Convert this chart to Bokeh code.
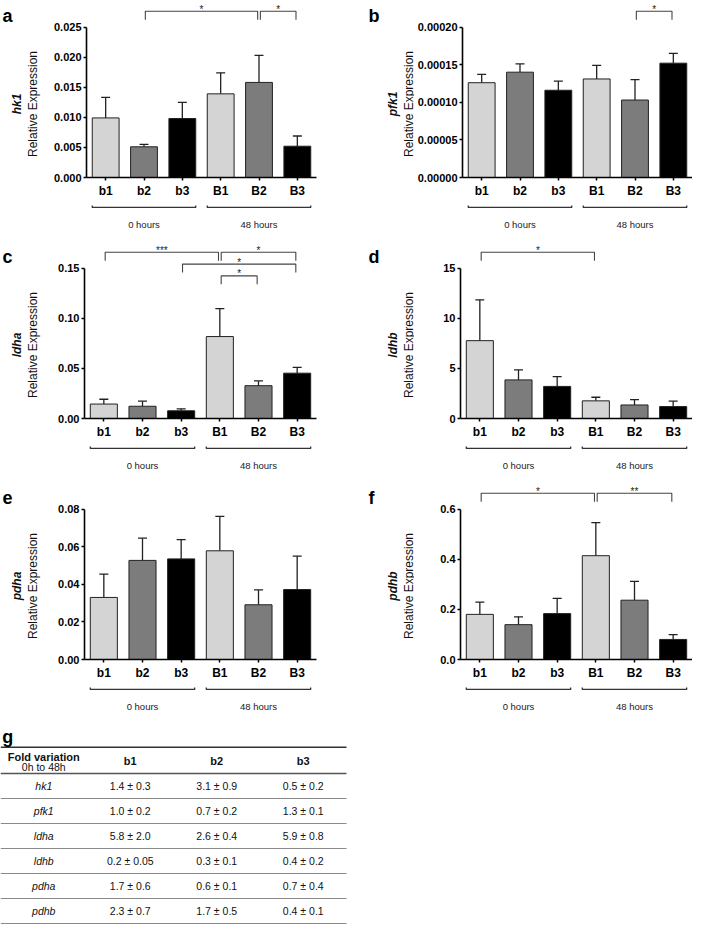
import math
from bokeh.plotting import figure
from bokeh.layouts import column, row
from bokeh.models import Range1d, FactorRange, FixedTicker, NumeralTickFormatter
from bokeh.embed import file_html
from bokeh.resources import INLINE
from bokeh.core.properties import value

FONT = "Liberation Sans"

# ---------------- data ----------------
categories = ["b1", "b2", "b3", "B1", "B2", "B3"]
group_names = ["0 hours", "48 hours"]
group_members = [["b1", "b2", "b3"], ["B1", "B2", "B3"]]
bar_colors = ["#d4d4d4", "#7c7c7c", "#000000", "#d4d4d4", "#7c7c7c", "#000000"]

hk1_mean = [0.0099, 0.0051, 0.0098, 0.0139, 0.0158, 0.0052]
hk1_err = [0.0034, 0.0004, 0.0027, 0.0035, 0.0045, 0.0017]
hk1_ticks = [0.0, 0.005, 0.010, 0.015, 0.020, 0.025]
hk1_sig = [("b2", "B2", "*", 0), ("B2", "B3", "*", 0)]

pfk1_mean = [0.000126, 0.000140, 0.000116, 0.000131, 0.000103, 0.000152]
pfk1_err = [0.000011, 0.000011, 0.000012, 0.000018, 0.000027, 0.000013]
pfk1_ticks = [0.0, 0.00005, 0.00010, 0.00015, 0.00020]
pfk1_sig = [("B2", "B3", "*", 0)]

ldha_mean = [0.0144, 0.0122, 0.0077, 0.0817, 0.0327, 0.0452]
ldha_err = [0.0048, 0.0051, 0.0019, 0.0279, 0.0048, 0.0058]
ldha_ticks = [0.0, 0.05, 0.10, 0.15]
ldha_sig = [("b1", "B1", "***", 0), ("B1", "B3", "*", 0), ("b3", "B3", "*", 1), ("B1", "B2", "*", 2)]

ldhb_mean = [7.76, 3.85, 3.20, 1.76, 1.35, 1.19]
ldhb_err = [4.07, 0.99, 0.97, 0.36, 0.54, 0.54]
ldhb_ticks = [0, 5, 10, 15]
ldhb_sig = [("b1", "B1", "*", 0)]

pdha_mean = [0.0330, 0.0527, 0.0535, 0.0578, 0.0291, 0.0372]
pdha_err = [0.0124, 0.0118, 0.0102, 0.0183, 0.0079, 0.0178]
pdha_ticks = [0.0, 0.02, 0.04, 0.06, 0.08]
pdha_sig = []

pdhb_mean = [0.180, 0.139, 0.183, 0.414, 0.2365, 0.080]
pdhb_err = [0.049, 0.031, 0.061, 0.132, 0.075, 0.019]
pdhb_ticks = [0.0, 0.2, 0.4, 0.6]
pdhb_sig = [("b1", "B1", "*", 0), ("B1", "B3", "**", 0)]

# fold-variation table
table_genes = ["hk1", "pfk1", "ldha", "ldhb", "pdha", "pdhb"]
table_cols = ["b1", "b2", "b3"]
fold_b1 = [(1.4, 0.3), (1.0, 0.2), (5.8, 2.0), (0.2, 0.05), (1.7, 0.6), (2.3, 0.7)]
fold_b2 = [(3.1, 0.9), (0.7, 0.2), (2.6, 0.4), (0.3, 0.1), (0.6, 0.1), (1.7, 0.5)]
fold_b3 = [(0.5, 0.2), (1.3, 0.1), (5.9, 0.8), (0.4, 0.2), (0.7, 0.4), (0.4, 0.1)]

# ---------------- layout constants ----------------
PANEL_W = 346
FRAME_W = 232
ROW_H = 241
BAR_H = 200
FRAME_H = 180
AXIS_TOP = 27          # px between frame top and top tick
GROUP_H = ROW_H - BAR_H
TABLE_H = 925 - 3 * ROW_H


def bare(fig):
    fig.outline_line_color = None
    fig.grid.visible = False
    fig.background_fill_color = "white"
    fig.border_fill_color = "white"
    return fig


def make_panel(letter, gene, means, errs, ticks, fmt, sig, side):
    axis_x = 84 if side == 0 else 114        # axis position inside the panel
    lab_w = 50 if side == 0 else 68          # width of the side-title strip
    left = axis_x - lab_w                    # border left of the bar frame
    right = PANEL_W - axis_x - FRAME_W
    ymax = ticks[-1]
    per_px = ymax / (FRAME_H - AXIS_TOP)
    xr = FactorRange(factors=categories)
    yr = Range1d(0, ymax + AXIS_TOP * per_px)

    # ---- strip holding the panel letter and the y title ----
    lab = bare(figure(width=lab_w, height=ROW_H, x_range=Range1d(0, lab_w),
                      y_range=Range1d(0, ROW_H), toolbar_location=None, tools="",
                      output_backend="svg", min_border=0,
                      x_axis_location=None, y_axis_location=None))
    yc = ROW_H - (AXIS_TOP + (FRAME_H - AXIS_TOP) / 2)
    lab.text(x=[axis_x - 52], y=[yc], text=["Relative Expression"],
             angle=math.pi / 2, text_font=value(FONT), text_font_size="12px",
             text_align="center", text_baseline="middle", text_color="#111111")
    lab.text(x=[axis_x - 68], y=[yc], text=[gene],
             angle=math.pi / 2, text_font=value(FONT), text_font_size="12px",
             text_font_style="bold italic", text_align="center",
             text_baseline="middle", text_color="#111111")
    lab.text(x=[2 if side == 0 else 22], y=[ROW_H - 15], text=[letter],
             text_font=value(FONT), text_font_size="18px", text_font_style="bold",
             text_align="left", text_baseline="alphabetic", text_color="black")

    # ---- bar chart ----
    p = bare(figure(width=PANEL_W - lab_w, height=BAR_H, x_range=xr, y_range=yr,
                    toolbar_location=None, tools="", output_backend="svg",
                    min_border_left=left, min_border_right=right,
                    min_border_top=0, min_border_bottom=BAR_H - FRAME_H))

    ya = p.yaxis[0]
    ya.bounds = (0, ymax)
    ya.ticker = FixedTicker(ticks=ticks)
    ya.formatter = NumeralTickFormatter(format=fmt)
    ya.minor_tick_line_color = None
    ya.major_tick_in = 0
    ya.major_tick_out = 3
    ya.major_tick_line_width = 1.5
    ya.axis_line_width = 1.6
    ya.axis_line_color = "black"
    ya.major_tick_line_color = "black"
    ya.major_label_standoff = 2
    ya.major_label_text_font = FONT
    ya.major_label_text_font_style = "bold"
    ya.major_label_text_font_size = "11px"
    ya.major_label_text_color = "black"

    xa = p.xaxis[0]
    xa.axis_line_width = 1.6
    xa.axis_line_color = "black"
    xa.major_tick_in = 0
    xa.major_tick_out = 3
    xa.major_tick_line_width = 1.5
    xa.major_tick_line_color = "black"
    xa.major_label_standoff = 3
    xa.major_label_text_font = FONT
    xa.major_label_text_font_style = "bold"
    xa.major_label_text_font_size = "12px"
    xa.major_label_text_color = "black"

    tops = [m + e for m, e in zip(means, errs)]
    p.segment(x0=categories, y0=means, x1=categories, y1=tops,
              line_color="#222222", line_width=1.3)
    p.scatter(x=categories, y=tops, marker="dash", size=9,
              line_color="#222222", line_width=1.3)
    p.vbar(x=categories, top=means, width=0.7, fill_color=bar_colors,
           line_color="#222222", line_width=1)

    # significance brackets
    xs, ys, sx, sy, st = [], [], [], [], []
    shrink = 0.035
    drop = 8.5 * per_px
    for a, b, stars, level in sig:
        x0 = categories.index(a) + 0.5 + shrink
        x1 = categories.index(b) + 0.5 - shrink
        y = ymax + (16 - 12 * level) * per_px
        xs.append([x0, x0, x1, x1])
        ys.append([y - drop, y, y, y - drop])
        sx.append((x0 + x1) / 2)
        sy.append(y + 2 * per_px)
        st.append(stars)
    if sig:
        p.multi_line(xs=xs, ys=ys, line_color="#444444", line_width=1.1)
        p.text(x=sx, y=sy, text=st, text_font=value(FONT), text_font_size="10px",
               text_align="center", text_baseline="alphabetic", text_color="#222222")

    # ---- time-group brackets under the axis ----
    g = bare(figure(width=PANEL_W - lab_w, height=GROUP_H, x_range=xr,
                    y_range=Range1d(0, 1), toolbar_location=None, tools="",
                    output_backend="svg", min_border_left=left,
                    min_border_right=right, min_border_top=0, min_border_bottom=0,
                    x_axis_location=None, y_axis_location=None))
    gxs, gys, tx, tt = [], [], [], []
    for name, members in zip(group_names, group_members):
        i0 = categories.index(members[0])
        i1 = categories.index(members[-1])
        x0 = i0 + 0.5 - 0.35
        x1 = i1 + 0.5 + 0.35
        gxs.append([x0, x0, x1, x1])
        gys.append([0.88, 0.83, 0.83, 0.88])
        tx.append((i0 + i1) / 2 + 0.5)
        tt.append(name)
    g.multi_line(xs=gxs, ys=gys, line_color="#333333", line_width=1.3)
    g.text(x=tx, y=[0.41] * len(tx), text=tt, text_font=value(FONT),
           text_font_size="9.5px", text_align="center", text_baseline="middle",
           text_color="#222222")
    return row(lab, column(p, g, spacing=0), spacing=0)


pa = make_panel("a", "hk1", hk1_mean, hk1_err, hk1_ticks, "0.000", hk1_sig, 0)
pb = make_panel("b", "pfk1", pfk1_mean, pfk1_err, pfk1_ticks, "0.00000", pfk1_sig, 1)
pc = make_panel("c", "ldha", ldha_mean, ldha_err, ldha_ticks, "0.00", ldha_sig, 0)
pd_ = make_panel("d", "ldhb", ldhb_mean, ldhb_err, ldhb_ticks, "0", ldhb_sig, 1)
pe = make_panel("e", "pdha", pdha_mean, pdha_err, pdha_ticks, "0.00", pdha_sig, 0)
pf = make_panel("f", "pdhb", pdhb_mean, pdhb_err, pdhb_ticks, "0.0", pdhb_sig, 1)

# ---------------- table g ----------------
t = bare(figure(width=2 * PANEL_W, height=TABLE_H, x_range=Range1d(0, 8),
                y_range=Range1d(-0.08, 8.0), toolbar_location=None, tools="",
                output_backend="svg", min_border=0,
                x_axis_location=None, y_axis_location=None))

n = len(table_genes)
ncol = 1 + len(table_cols)
row_y = [n - i - 0.5 for i in range(n)]
header_top = n + 1.05

# rules
t.segment(x0=[0], y0=[header_top], x1=[ncol], y1=[header_top], line_color="#333333", line_width=1.6)
t.segment(x0=[0], y0=[n], x1=[ncol], y1=[n], line_color="#555555", line_width=1.3)
t.segment(x0=[0] * n, y0=list(range(n)), x1=[ncol] * n, y1=list(range(n)),
          line_color="#8a8a8a", line_width=1.1)

# header
t.text(x=[0.5], y=[n + 0.68], text=["Fold variation"], text_font=value(FONT),
       text_font_size="11px", text_font_style="bold", text_align="center",
       text_baseline="middle", text_color="#111111")
t.text(x=[0.5], y=[n + 0.28], text=["0h to 48h"], text_font=value(FONT),
       text_font_size="10.5px", text_align="center", text_baseline="middle",
       text_color="#111111")
t.text(x=[c + 1.5 for c in range(len(table_cols))], y=[n + 0.52] * len(table_cols),
       text=table_cols, text_font=value(FONT), text_font_size="11px",
       text_font_style="bold", text_align="center", text_baseline="middle",
       text_color="#111111")
# gene names
t.text(x=[0.5] * n, y=row_y, text=table_genes, text_font=value(FONT),
       text_font_size="10.5px", text_font_style="italic", text_align="center",
       text_baseline="middle", text_color="#111111")
# values
for ci, col in enumerate([fold_b1, fold_b2, fold_b3]):
    t.text(x=[ci + 1.5] * n, y=row_y, text=[f"{m} \u00b1 {s}" for m, s in col],
           text_font=value(FONT), text_font_size="10.5px", text_align="center",
           text_baseline="middle", text_color="#111111")
# panel letter
t.text(x=[0.02], y=[7.45], text=["g"], text_font=value(FONT), text_font_size="18px",
       text_font_style="bold", text_align="left", text_baseline="alphabetic",
       text_color="black")

layout = column(row(pa, pb, spacing=0), row(pc, pd_, spacing=0),
                row(pe, pf, spacing=0), t, spacing=0)

open("out.html", "w").write(file_html(layout, INLINE))
